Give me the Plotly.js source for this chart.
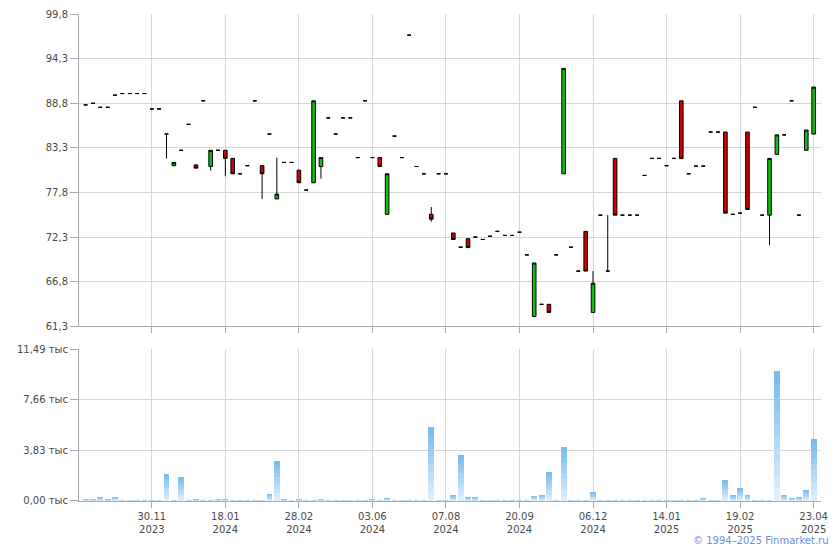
<!DOCTYPE html>
<html>
<head>
<meta charset="utf-8">
<script src="https://cdn.plot.ly/plotly-3.0.1.min.js"></script>
<style>html,body{margin:0;padding:0;background:#fff;}#chart{width:840px;height:550px;}</style>
</head>
<body>
<div id="chart"></div>
<script>
// ---- data (trade index order) ----
const openP = [88.6,88.8,88.3,88.3,89.8,90.0,90.0,90.0,90.0,88.1,
  88.1,85.0,81.1,83.0,86.2,81.2,89.1,81.0,83.0,83.0,
  82.0,80.1,81.1,89.1,81.1,85.0,77.0,81.5,81.5,80.55,
  78.1,79.0,81.0,87.0,85.0,87.0,87.0,82.1,89.1,82.1,
  82.1,75.1,84.75,82.1,97.2,81.0,80.1,75.1,80.1,80.1,
  72.8,71.05,72.1,72.3,72.0,72.4,73.0,72.5,72.5,72.9,
  70.1,62.5,64.0,64.0,70.1,80.1,71.05,68.1,73.0,63.0,
  75.0,68.1,82.0,75.0,75.0,75.0,79.9,82.0,82.0,81.1,
  82.0,89.1,80.1,81.05,81.05,85.25,85.25,85.25,75.1,75.25,
  85.25,88.3,75.0,75.0,82.5,84.9,89.1,75.0,83.0,85.0];
const highP = [88.6,88.8,88.3,88.3,89.8,90.0,90.0,90.0,90.0,88.1,
  88.1,85.0,81.5,83.0,86.2,81.2,89.1,83.0,83.0,83.0,
  82.0,80.1,81.1,89.1,81.1,85.0,82.1,81.5,81.5,80.55,
  78.1,89.1,82.1,87.0,85.0,87.0,87.0,82.1,89.1,82.1,
  82.1,80.1,84.75,82.1,97.2,81.0,80.1,76.0,80.1,80.1,
  72.8,71.05,72.1,72.3,72.0,72.4,73.0,72.5,72.5,72.9,
  70.1,69.1,64.0,64.0,70.1,93.1,71.05,68.1,73.0,68.1,
  75.0,75.0,82.0,75.0,75.0,75.0,79.9,82.0,82.0,81.1,
  82.0,89.1,80.1,81.05,81.05,85.25,85.25,85.25,75.1,75.25,
  85.25,88.3,75.0,82.0,84.9,84.9,89.1,75.0,85.5,90.8];
const lowP = [88.6,88.8,88.3,88.3,89.8,90.0,90.0,90.0,90.0,88.1,
  88.1,82.0,81.1,83.0,86.2,80.8,89.1,80.5,83.0,79.8,
  80.1,80.1,81.1,89.1,77.0,85.0,77.0,81.5,81.5,79.0,
  78.1,79.0,79.5,87.0,85.0,87.0,87.0,82.1,89.1,82.1,
  81.0,75.1,84.75,82.1,97.2,81.0,80.1,74.2,80.1,80.1,
  72.0,71.05,71.0,72.3,72.0,72.4,73.0,72.5,72.5,72.9,
  70.1,62.5,64.0,63.0,70.1,80.1,71.05,68.1,68.1,63.0,
  75.0,68.1,75.0,75.0,75.0,75.0,79.9,82.0,82.0,81.1,
  82.0,82.0,80.1,81.05,81.05,85.25,85.25,75.25,75.1,75.25,
  75.7,88.3,75.0,71.3,82.5,84.9,89.1,75.0,83.0,85.0];
const closeP = [88.6,88.8,88.3,88.3,89.8,90.0,90.0,90.0,90.0,88.1,
  88.1,85.0,81.5,83.0,86.2,80.8,89.1,83.0,83.0,82.0,
  80.1,80.1,81.1,89.1,80.1,85.0,77.6,81.5,81.5,79.0,
  78.1,89.1,82.1,87.0,85.0,87.0,87.0,82.1,89.1,82.1,
  81.0,80.1,84.75,82.1,97.2,81.0,80.1,74.5,80.1,80.1,
  72.0,71.05,71.0,72.3,72.0,72.4,73.0,72.5,72.5,72.9,
  70.1,69.1,64.0,63.0,70.1,93.1,71.05,68.1,68.1,66.6,
  75.0,68.1,75.0,75.0,75.0,75.0,79.9,82.0,82.0,81.1,
  82.0,82.0,80.1,81.05,81.05,85.25,85.25,75.25,75.1,75.25,
  75.7,88.3,75.0,82.0,84.9,84.9,89.1,75.0,85.5,90.8];
// volume, thousands
const volumeK = [0.15,0.15,0.3,0.15,0.3,0.08,0.08,0.08,0.08,0.08,
  0.08,2.04,0.08,1.81,0.08,0.15,0.08,0.08,0.15,0.15,
  0.08,0.08,0.08,0.08,0.08,0.53,3.02,0.15,0.08,0.15,
  0.08,0.08,0.15,0.08,0.08,0.08,0.08,0.08,0.08,0.15,
  0.08,0.23,0.08,0.08,0.08,0.08,0.08,5.59,0.08,0.08,
  0.45,3.48,0.3,0.3,0.08,0.08,0.08,0.08,0.08,0.08,
  0.08,0.38,0.45,2.19,0.08,4.08,0.08,0.08,0.08,0.68,
  0.08,0.08,0.08,0.08,0.08,0.08,0.08,0.08,0.08,0.08,
  0.08,0.08,0.08,0.08,0.23,0.08,0.08,1.59,0.45,0.98,
  0.45,0.08,0.08,0.08,9.83,0.45,0.23,0.3,0.83,4.69];
const tickIdx = [9,19,29,39,49,59,69,79,89,99];
const tickDates = ['30.11','18.01','28.02','03.06','07.08','20.09','06.12','14.01','19.02','23.04'];
const tickYears = ['2023','2024','2024','2024','2024','2024','2024','2025','2025','2025'];
const priceTicks = [61.3,66.8,72.3,77.8,83.3,88.8,94.3,99.8];
const volTicks = [0,3.83,7.66,11.49];
const volUnit = 'тыс';

const idx = openP.map((_, i) => i);
const tickText = tickDates.map((d, i) => d + '<br>' + tickYears[i]);
const volTickText = volTicks.map(v => v.toFixed(2).replace('.', ',') + ' ' + volUnit);

const traces = [];
traces.push({
  type: 'candlestick', x: idx, open: openP, high: highP, low: lowP, close: closeP,
  xaxis: 'x2', yaxis: 'y2',
  increasing: {line: {color: '#000', width: 1}, fillcolor: '#0fc00f'},
  decreasing: {line: {color: '#000', width: 1}, fillcolor: '#d00000'},
  whiskerwidth: 0, hoverinfo: 'skip'
});
// stepped vertical gradient for volume bars
const N = 10;
const c0 = [120, 188, 240], c1 = [222, 238, 251];
for (let k = 0; k < N; k++) {
  const t = k / (N - 1);
  const col = 'rgb(' + c0.map((c, j) => Math.round(c + (c1[j] - c) * t)).join(',') + ')';
  traces.push({
    type: 'bar', x: idx, y: volumeK.map(v => v * (1 - k / N)),
    xaxis: 'x', yaxis: 'y', width: 0.8,
    marker: {color: col, line: {width: 0}}, hoverinfo: 'skip'
  });
}

const gridC = '#d3d7db', lineC = '#a7abb2';
const baseX = {
  range: [-0.9, 100], tickvals: tickIdx, ticktext: tickText,
  showgrid: true, gridcolor: gridC, gridwidth: 1,
  showline: true, linecolor: lineC, linewidth: 1,
  ticks: 'outside', ticklen: 6, tickcolor: lineC, zeroline: false,
  rangeslider: {visible: false}, fixedrange: true
};
const baseY = {
  showgrid: true, gridcolor: gridC, gridwidth: 1,
  showline: true, linecolor: lineC, linewidth: 1,
  ticks: 'outside', ticklen: 8, tickcolor: lineC, zeroline: false, fixedrange: true
};
const layout = {
  width: 840, height: 550,
  margin: {l: 79, r: 19, t: 14, b: 49},
  paper_bgcolor: '#fff', plot_bgcolor: '#fff',
  separators: ', ', showlegend: false, barmode: 'overlay', bargap: 0,
  font: {family: 'DejaVu Sans', size: 10, color: '#4a4a4a'},
  xaxis: Object.assign({}, baseX, {anchor: 'y', domain: [0, 1]}),
  xaxis2: Object.assign({}, baseX, {anchor: 'y2', domain: [0, 1], showticklabels: false, matches: 'x'}),
  yaxis: Object.assign({}, baseY, {domain: [0, 0.3121], range: [0, 11.5], tickvals: volTicks, ticktext: volTickText, automargin: false}),
  yaxis2: Object.assign({}, baseY, {domain: [0.3587, 1], range: [61.29, 99.81], tickvals: priceTicks, tickformat: '.1f', automargin: false}),
  annotations: [{
    xref: 'paper', yref: 'paper', x: 1.0135, y: -0.082, xanchor: 'right', yanchor: 'middle',
    text: '© 1994–2025 Finmarket.ru', showarrow: false,
    font: {family: 'DejaVu Sans', size: 10, color: '#6a8ee0'}
  }]
};
Plotly.newPlot('chart', traces, layout, {displayModeBar: false, staticPlot: true});
</script>
</body>
</html>
